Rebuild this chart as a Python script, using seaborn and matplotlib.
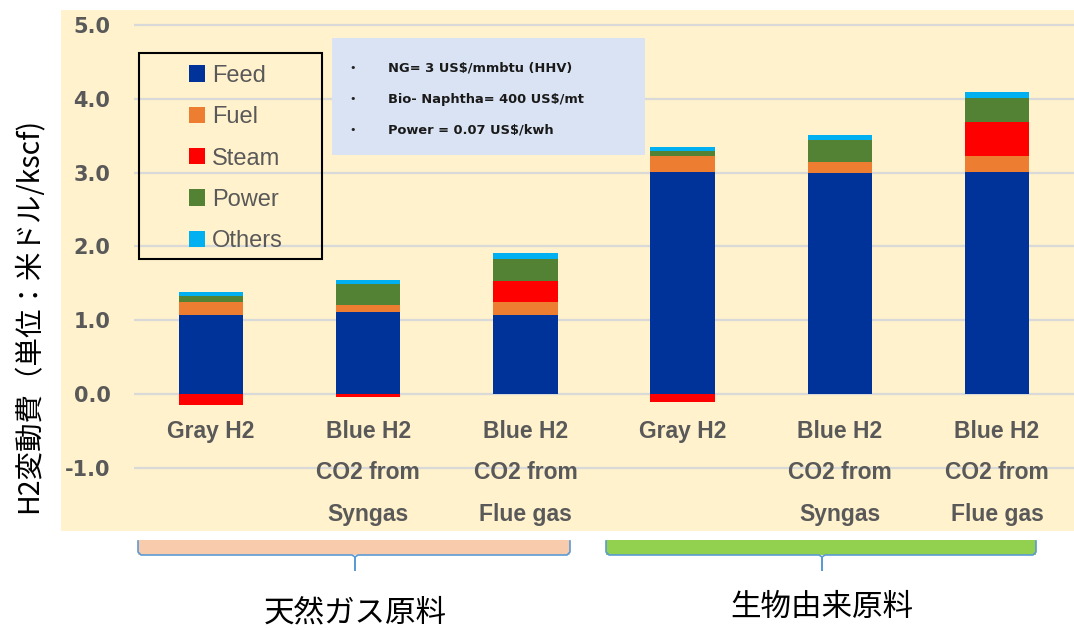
"""
H2 variable cost breakdown: NG feedstock vs bio feedstock
"""

import numpy as np
import pandas as pd
import matplotlib
matplotlib.use("Agg")
import matplotlib.pyplot as plt
from matplotlib.patches import Rectangle, Patch
from matplotlib.lines import Line2D
import seaborn as sns

# --- Data (US$/kscf) ---
cases = ["NG Gray", "NG Blue Syngas", "NG Blue Flue", "Bio Gray", "Bio Blue Syngas", "Bio Blue Flue"]
case_labels = ["Gray H2", "Blue H2\nCO2 from\nSyngas", "Blue H2\nCO2 from\nFlue gas",
               "Gray H2", "Blue H2\nCO2 from\nSyngas", "Blue H2\nCO2 from\nFlue gas"]
feed = [1.07, 1.11, 1.07, 3.01, 3.00, 3.01]
fuel = [0.18, 0.10, 0.18, 0.21, 0.145, 0.21]
steam = [-0.14, -0.04, 0.28, -0.10, 0.0, 0.46]
power = [0.085, 0.28, 0.30, 0.07, 0.30, 0.33]
others = [0.045, 0.06, 0.08, 0.05, 0.07, 0.08]

series_names = ["Feed", "Fuel", "Steam", "Power", "Others"]
series_colors = ["#003399", "#ED7D31", "#FF0000", "#548235", "#00B0F0"]

group_names = ["天然ガス原料", "生物由来原料"]
notes = ["NG= 3 US$/mmbtu (HHV)", "Bio- Naphtha= 400 US$/mt", "Power = 0.07 US$/kwh"]
yticks = [-1.0, 0.0, 1.0, 2.0, 3.0, 4.0, 5.0]

df = pd.DataFrame({"case": cases, "Feed": feed, "Fuel": fuel, "Steam": steam,
                   "Power": power, "Others": others})
df["Steam+"] = df["Steam"].clip(lower=0)
df["Steam-"] = df["Steam"].clip(upper=0)

# --- Figure layout (pixel helpers) ---
W, H = 1074, 630
CREAM = "#FFF2CC"
GRAY_TXT = "#595959"


def px(x, y):
    return x / W, 1 - y / H


fig = plt.figure(figsize=(W / 100, H / 100), dpi=100)
fig.patch.set_facecolor("white")
fig.patches.append(Rectangle(px(61, 531), (W - 61) / W, (531 - 10) / H,
                             transform=fig.transFigure, facecolor=CREAM,
                             edgecolor="none", zorder=-1))

ax = fig.add_axes([134 / W, 1 - 531 / H, (W - 134) / W, (531 - 10) / H])
ax.set_facecolor(CREAM)

# --- Stacked bars ---
bar_w = 0.41
stack = [("Feed", 0), ("Fuel", 1), ("Steam+", 2), ("Power", 3), ("Others", 4)]
bottom = np.zeros(len(df))
for col, ci in stack:
    sns.barplot(data=df, x="case", y=col, order=cases, bottom=bottom,
                color=series_colors[ci], saturation=1, width=bar_w,
                errorbar=None, linewidth=0, ax=ax, zorder=3)
    bottom = bottom + df[col].values
sns.barplot(data=df, x="case", y="Steam-", order=cases, color=series_colors[2],
            saturation=1, width=bar_w, errorbar=None, linewidth=0, ax=ax, zorder=3)

# --- Axes styling ---
ax.set_xlim(-0.49, 5.49)
ax.set_ylim(-1.85, 5.2)
ax.set_xticks([])
ax.set_xlabel("")
ax.set_ylabel("")
ax.set_yticks(yticks)
ax.set_yticklabels([f"{v:.1f}" for v in yticks], fontsize=15, fontweight="bold",
                   color=GRAY_TXT, family="DejaVu Sans")
ax.tick_params(axis="y", length=0, pad=17)
ax.yaxis.grid(True, color="#D9D9D9", linewidth=1.6, zorder=0)
ax.set_axisbelow(True)
for s in ax.spines.values():
    s.set_visible(False)

# category labels inside the plot area, one line at a time
line_y = [-0.51, -1.06, -1.63]
for i, lab in enumerate(case_labels):
    for j, part in enumerate(lab.split("\n")):
        ax.text(i, line_y[j], part, ha="center", va="center", fontsize=16.5,
                fontweight="bold", color=GRAY_TXT, family="Liberation Sans")

# --- Legend ---
fig.patches.append(Rectangle(px(139, 259), (322 - 139) / W, (259 - 53) / H,
                             transform=fig.transFigure, facecolor="none",
                             edgecolor="black", linewidth=1.5, zorder=5))
handles = [Patch(facecolor=c, edgecolor="none") for c in series_colors]
leg = fig.legend(handles, series_names, loc="center", bbox_to_anchor=px(236, 158.5),
                 frameon=False, handlelength=0.68, handleheight=0.68,
                 handletextpad=0.3, labelspacing=0.82,
                 prop={"family": "Liberation Sans", "size": 17})
for t in leg.get_texts():
    t.set_color(GRAY_TXT)

# --- Assumption box ---
fig.patches.append(Rectangle(px(332, 155), (645 - 332) / W, (155 - 38) / H,
                             transform=fig.transFigure, facecolor="#DAE3F3",
                             edgecolor="none", zorder=4))
for k, note in enumerate(notes):
    yy = 68 + 31 * k
    fig.text(*px(353, yy), "•", ha="center", va="center", fontsize=8,
             color="#222222", zorder=6)
    fig.text(*px(388, yy), note, ha="left", va="center", fontsize=9.4,
             fontweight="bold", color="#1a1a1a", family="DejaVu Sans", zorder=6)

# --- Y axis label ---
fig.text(*px(30, 315), "H2変動費（単位：米ドル/kscf)", rotation=90, ha="center",
         va="center", fontsize=20.5, color="black",
         family=["Noto Sans CJK JP", "DejaVu Sans"])

# --- Group brackets below the chart ---
brackets = [(138, 570, 355, "#F8CBAD", 613), (606, 1036, 822, "#92D050", 607)]
for (x0, x1, xc, fill, ty), name in zip(brackets, group_names):
    fig.patches.append(Rectangle(px(x0, 555), (x1 - x0) / W, 15 / H,
                                 transform=fig.transFigure, facecolor=fill,
                                 edgecolor="none", zorder=1))
    xs = [x0, x0, x0 + 3, xc - 3, xc, xc, xc, xc + 3, x1 - 3, x1, x1]
    ys = [541, 552, 555, 555, 557, 570, 557, 555, 555, 552, 541]
    pts = [px(a, b) for a, b in zip(xs, ys)]
    fig.lines.append(Line2D([p[0] for p in pts], [p[1] for p in pts],
                            transform=fig.transFigure, color="#5B9BD5",
                            linewidth=1.2, zorder=2))
    fig.text(*px(xc, ty), name, ha="center", va="center", fontsize=22,
             color="black", family=["Noto Sans CJK JP", "DejaVu Sans"])

fig.savefig("out.png", dpi=100, facecolor="white")
